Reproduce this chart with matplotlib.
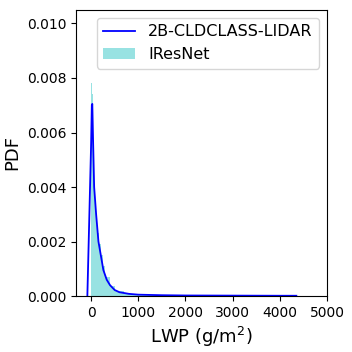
import matplotlib.pyplot as plt
import numpy as np

# 2B-CLDCLASS-LIDAR density curve (LWP in g/m^2, PDF)
lidar_lwp = [-80, -40, 0, 15, 25, 40, 64, 106, 155, 190, 260, 330, 400, 500,
             600, 800, 1000, 1500, 2000, 3000, 4000, 4350]
lidar_pdf = [0.0, 0.0028, 0.0056, 0.00700, 0.00705, 0.0058, 0.0040, 0.0030,
             0.0020, 0.00165, 0.00095, 0.0006, 0.0004, 0.00022, 0.00014,
             0.00008, 0.00005, 0.00003, 0.00002, 0.000015, 0.00001, 0.00001]

# IResNet histogram (bin edges and densities)
iresnet_edges = [0, 20, 40, 60, 80, 100, 130, 160, 200, 250, 300, 400, 500,
                 700, 1000, 1500, 2000, 3000, 4350]
iresnet_dens = [0.0078, 0.0074, 0.0052, 0.0039, 0.0033, 0.0028, 0.0023,
                0.0019, 0.0015, 0.0011, 0.0007, 0.00036, 0.00018, 0.00008,
                0.00004, 0.00002, 0.000015, 0.00001]

fig = plt.figure(figsize=(3.52, 3.52), dpi=100)
ax = fig.add_axes([0.216, 0.159, 0.713, 0.813])

ax.stairs(iresnet_dens, iresnet_edges, fill=True, color="#98e2e2",
          label="IResNet")
ax.plot(lidar_lwp, lidar_pdf, color="blue", lw=1.3, label="2B-CLDCLASS-LIDAR")

ax.set_xlim(-320, 5000)
ax.set_ylim(0, 0.0105)
ax.set_xticks(np.arange(0, 5001, 1000))
ax.set_yticks([0, 0.002, 0.004, 0.006, 0.008, 0.010])
ax.set_yticklabels(["0.000", "0.002", "0.004", "0.006", "0.008", "0.010"])
ax.tick_params(labelsize=10)
ax.set_xlabel("LWP (g/m$^2$)", fontsize=13)
ax.set_ylabel("PDF", fontsize=13)

handles, labels = ax.get_legend_handles_labels()
ax.legend(handles[::-1], labels[::-1], loc="upper right", fontsize=11.5)

fig.savefig("out.png", dpi=100)
